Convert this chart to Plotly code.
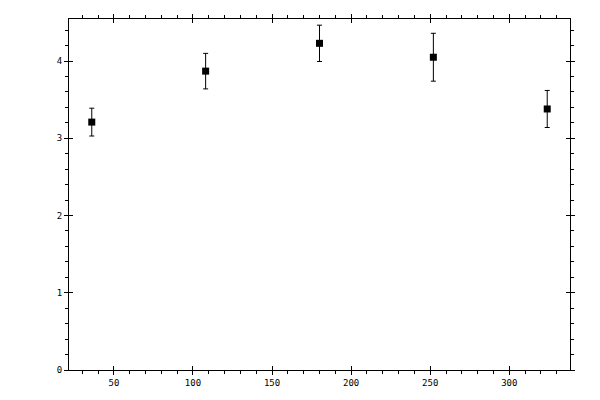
import plotly.graph_objects as go

# values
angles = [36, 108, 180, 252, 324]
means = [3.21, 3.87, 4.23, 4.05, 3.38]
errors = [0.18, 0.23, 0.235, 0.31, 0.24]

x_range = [21.6, 338.4]
y_range = [0, 4.545]

fig = go.Figure()

fig.add_trace(go.Scatter(
    x=angles,
    y=means,
    mode='markers',
    marker=dict(symbol='square', size=7, color='black'),
    error_y=dict(type='data', array=errors, visible=True,
                 color='black', thickness=1, width=2.5),
    showlegend=False,
    cliponaxis=False
))

# invisible trace so the overlay axes (inward major ticks) get drawn
fig.add_trace(go.Scatter(
    x=angles[:1], y=means[:1],
    xaxis='x2', yaxis='y2',
    mode='markers', marker=dict(opacity=0),
    showlegend=False, hoverinfo='skip'
))

tick_font = dict(family='DejaVu Sans Mono', size=9, color='black')

# page body adds an 8px offset, margins are shifted to compensate
fig.update_layout(
    width=600, height=400,
    margin=dict(l=61, r=38, t=11, b=38),
    plot_bgcolor='white',
    paper_bgcolor='white',
    xaxis=dict(
        range=x_range, tick0=0, dtick=50,
        showgrid=False, zeroline=False,
        showline=True, linecolor='black', linewidth=1, mirror='ticks',
        ticks='outside', ticklen=4, tickcolor='black', tickwidth=1,
        minor=dict(ticks='outside', dtick=10, tick0=0, ticklen=3,
                   tickcolor='black', tickwidth=1, showgrid=False),
        tickfont=tick_font, automargin=False
    ),
    yaxis=dict(
        range=y_range, tick0=0, dtick=1,
        showgrid=False, zeroline=False,
        showline=True, linecolor='black', linewidth=1, mirror='ticks',
        ticks='outside', ticklen=4, tickcolor='black', tickwidth=1,
        minor=dict(ticks='outside', dtick=0.2, tick0=0, ticklen=3,
                   tickcolor='black', tickwidth=1, showgrid=False),
        tickfont=tick_font, automargin=False
    ),
    xaxis2=dict(
        overlaying='x', range=x_range, tick0=0, dtick=50,
        showgrid=False, zeroline=False, showline=False,
        ticks='inside', ticklen=4, tickcolor='black', tickwidth=1,
        mirror='ticks', showticklabels=False
    ),
    yaxis2=dict(
        overlaying='y', range=y_range, tick0=0, dtick=1,
        showgrid=False, zeroline=False, showline=False,
        ticks='inside', ticklen=4, tickcolor='black', tickwidth=1,
        mirror='ticks', showticklabels=False
    )
)

fig.write_html('out.html')
